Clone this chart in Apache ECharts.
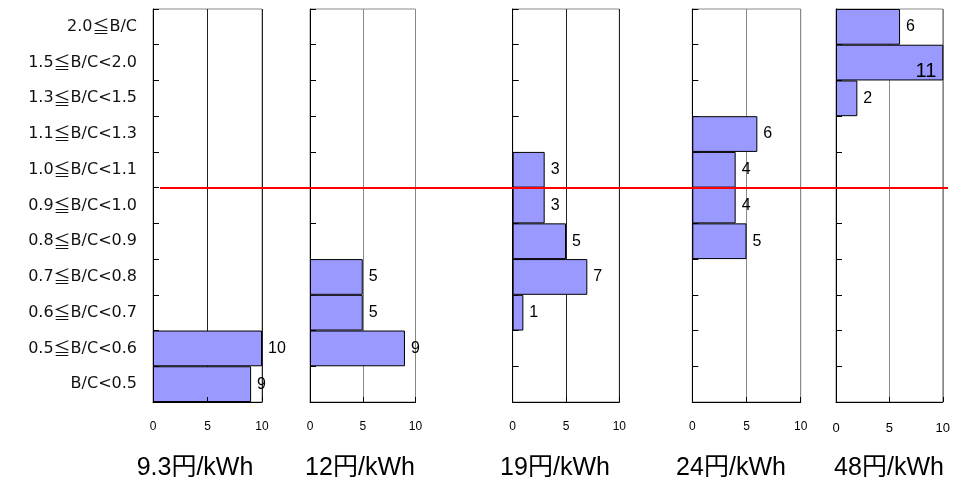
<!DOCTYPE html>
<html>
<head>
<meta charset="utf-8">
<script src="https://cdn.jsdelivr.net/npm/echarts@6/dist/echarts.min.js"></script>
<style>
  html, body { margin: 0; padding: 0; background: #ffffff; }
  #chart { width: 953px; height: 484px; }
</style>
</head>
<body>
<div id="chart"></div>
<script>
// B/C classes, listed from the bottom row to the top row
const categories = [
  'B/C<0.5', '0.5≦B/C<0.6', '0.6≦B/C<0.7', '0.7≦B/C<0.8', '0.8≦B/C<0.9',
  '0.9≦B/C<1.0', '1.0≦B/C<1.1', '1.1≦B/C<1.3', '1.3≦B/C<1.5', '1.5≦B/C<2.0', '2.0≦B/C'
];

// Generation cost cases shown under each panel
const priceLabels = ['9.3円/kWh', '12円/kWh', '19円/kWh', '24円/kWh', '48円/kWh'];

// Number of cases per B/C class (null = no bar)
const counts93 = [9, 10, null, null, null, null, null, null, null, null, null];
const counts12 = [null, 9, 5, 5, null, null, null, null, null, null, null];
const counts19 = [null, null, 1, 7, 5, 3, 3, null, null, null, null];
const counts24 = [null, null, null, null, 5, 4, 4, 6, null, null, null];
const counts48 = [null, null, null, null, null, null, null, null, 2, 11, 6];

const xTicks = [0, 5, 10];

// Class that marks the B/C = 1.0 threshold line
const thresholdClass = '1.0≦B/C<1.1';

const seriesValues = [counts93, counts12, counts19, counts24, counts48];

// Panel geometry and styling
const panelLayout = [
  { left: 153,   width: 109,   titleX: 195, split: '#222', tickFont: 12, tickMargin: 19 },
  { left: 310,   width: 105.5, titleX: 360, split: '#888', tickFont: 12, tickMargin: 19 },
  { left: 512.7, width: 106.6, titleX: 555, split: '#222', tickFont: 12, tickMargin: 19 },
  { left: 692.3, width: 108.4, titleX: 731, split: '#888', tickFont: 12, tickMargin: 19 },
  { left: 836,   width: 109.7, titleX: 889, split: '#888', tickFont: 13, tickMargin: 20 }
];
const plotTop = 9;
const plotHeight = 393;

const fontStack = '"Liberation Sans", Arial, "Noto Sans CJK JP", sans-serif';
const categoryFont = '"DejaVu Sans", "Noto Sans CJK JP", sans-serif';
const cjkFont = '"Noto Sans CJK JP", sans-serif';
const xMin = xTicks[0];
const xMax = xTicks[xTicks.length - 1];
const xStep = xTicks[1] - xTicks[0];

const grid = [];
const xAxis = [];
const yAxis = [];
const series = [];
const title = [];

panelLayout.forEach((p, i) => {
  grid.push({
    left: p.left, width: p.width, top: plotTop, height: plotHeight,
    show: true, borderColor: '#8a8a8a', borderWidth: 1, backgroundColor: 'transparent'
  });

  // vertical grid lines (drawn beneath the bars)
  xAxis.push({
    gridIndex: i, type: 'value', min: xMin, max: xMax, interval: xStep,
    position: 'top', z: 0,
    axisLine: { show: false }, axisTick: { show: false }, axisLabel: { show: false },
    splitLine: { show: true, lineStyle: { color: p.split, width: 1 } }
  });
  // bottom axis with ticks and numbers (drawn above the bars)
  xAxis.push({
    gridIndex: i, type: 'value', min: xMin, max: xMax, interval: xStep,
    position: 'bottom', z: 5,
    axisLine: { show: true, lineStyle: { color: '#000', width: 1 } },
    axisTick: { show: true, inside: true, length: 5, lineStyle: { color: '#000' } },
    axisLabel: { show: true, color: '#000', fontSize: p.tickFont, fontFamily: fontStack, margin: p.tickMargin },
    splitLine: { show: false }
  });

  yAxis.push({
    gridIndex: i, type: 'category', data: categories, boundaryGap: true,
    axisLine: { show: true, lineStyle: { color: '#000', width: 1 } },
    axisTick: { show: true, inside: true, length: 6, lineStyle: { color: '#000' } },
    axisLabel: {
      show: i === 0, color: '#111', fontSize: 16, fontFamily: categoryFont, margin: 16,
      // the ≦ sign is set in the CJK face so it keeps its full-width form
      formatter: (v) => v.split('≦').join('{s|≦}'),
      rich: {
        s: { fontFamily: cjkFont, fontSize: 17, color: '#111' }
      }
    },
    splitLine: { show: false }
  });

  const data = seriesValues[i].map(v => {
    if (v !== null && v > xMax) {
      return {
        value: v,
        label: { position: 'insideRight', distance: 7, fontSize: 20, offset: [0, 9] }
      };
    }
    return v;
  });

  series.push({
    type: 'bar',
    name: priceLabels[i],
    xAxisIndex: i * 2,
    yAxisIndex: i,
    data: data,
    barCategoryGap: '0%',
    clip: true,
    z: 2,
    itemStyle: { color: '#9999ff', borderColor: '#000', borderWidth: 1 },
    label: {
      show: true, position: 'right', distance: 6,
      color: '#000', fontSize: 16, fontFamily: fontStack
    }
  });

  title.push({
    text: priceLabels[i],
    left: p.titleX, top: 456, textAlign: 'center', padding: 0,
    textStyle: { fontSize: 25, fontWeight: 'normal', color: '#000', fontFamily: fontStack }
  });
});

// Full-width overlay for the B/C = 1.0 threshold line
const overlayIndex = panelLayout.length;
grid.push({ left: 160, right: 5, top: plotTop, height: plotHeight, show: false });
xAxis.push({ gridIndex: overlayIndex, type: 'value', min: 0, max: 1, show: false });
yAxis.push({ gridIndex: overlayIndex, type: 'value', min: 0, max: categories.length, show: false });
series.push({
  type: 'line',
  xAxisIndex: xAxis.length - 1,
  yAxisIndex: overlayIndex,
  data: [],
  z: 10,
  silent: true,
  markLine: {
    silent: true,
    symbol: ['none', 'none'],
    label: { show: false },
    lineStyle: { color: '#ff0000', width: 2, type: 'solid' },
    data: [{ yAxis: categories.indexOf(thresholdClass) }]
  }
});

const chart = echarts.init(document.getElementById('chart'), null, { renderer: 'canvas' });
chart.setOption({
  animation: false,
  backgroundColor: '#ffffff',
  title: title,
  grid: grid,
  xAxis: xAxis,
  yAxis: yAxis,
  series: series
});
</script>
</body>
</html>
